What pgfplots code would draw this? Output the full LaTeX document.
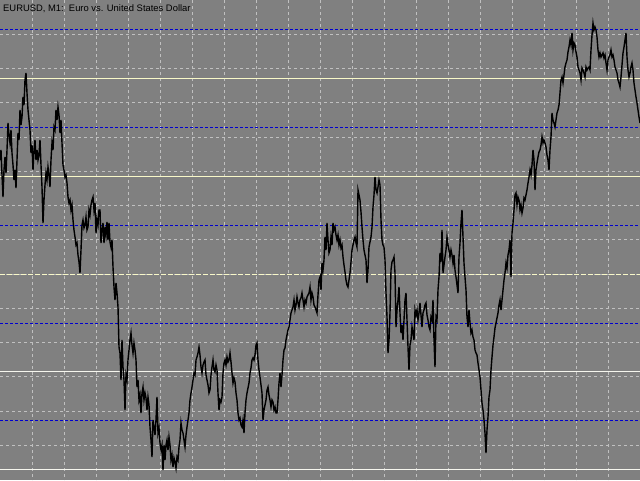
\documentclass[border=0pt]{standalone}
\usepackage{pgfplots}
\pgfplotsset{compat=1.18}
\usepackage{fontspec}
\setmainfont{Liberation Sans}
\definecolor{bggray}{HTML}{808080}
\definecolor{gridgray}{HTML}{C0C0C0}
\definecolor{lvlblue}{HTML}{0000D0}
\definecolor{lvlcream}{HTML}{F8F8C8}
\definecolor{lvlwhite}{HTML}{F6F6EE}
\begin{document}
\begin{tikzpicture}
\begin{axis}[
  width=640pt, height=480pt, scale only axis,
  xmin=0, xmax=640, ymin=0, ymax=480, y dir=reverse,
  axis background/.style={fill=bggray},
  axis line style={draw=none},
  xtick={32,64,...,608},
  ytick={34,68.5,102.8,137,171.3,205.5,239.8,274,308.3,342.6,376.8,411,445.4},
  xticklabels={}, yticklabels={},
  major tick length=0pt,
  grid=major,
  grid style={gridgray, line width=0.8pt, dash pattern=on 3pt off 3pt},
  clip=true,
]
% level lines
\addplot[lvlblue, line width=0.9pt, dash pattern=on 3pt off 2pt] coordinates {(0,29.5) (640,29.5)};
\addplot[lvlblue, line width=0.9pt, dash pattern=on 3pt off 2pt] coordinates {(0,127.5) (640,127.5)};
\addplot[lvlblue, line width=0.9pt, dash pattern=on 3pt off 2pt] coordinates {(0,225.5) (640,225.5)};
\addplot[lvlblue, line width=0.9pt, dash pattern=on 3pt off 2pt] coordinates {(0,323.5) (640,323.5)};
\addplot[lvlblue, line width=0.9pt, dash pattern=on 3pt off 2pt] coordinates {(0,420.5) (640,420.5)};
\addplot[lvlcream, line width=1pt] coordinates {(0,78.5) (640,78.5)};
\addplot[lvlcream, line width=1pt] coordinates {(0,176.5) (640,176.5)};
\addplot[lvlcream, line width=1pt, dash pattern=on 5pt off 2pt] coordinates {(0,274.5) (640,274.5)};
\addplot[lvlwhite, line width=1pt] coordinates {(0,371.5) (640,371.5)};
\addplot[lvlwhite, line width=1pt] coordinates {(0,469.5) (640,469.5)};
% price
\addplot[black, line width=1.4pt, line join=miter] coordinates {
(0,160) (1,150) (2,175) (3,197) (4,170) (5,157) (6,173) (7,150) (8,123) (9,135) (10,143) (11,130) (12,153) (13,165) (14,180) (15,170) (16,188) (17,160) (18,133) (19,140) (20,110) (21,125) (22,117) (23,97) (24,105) (25,80) (26,73) (27,93) (28,110) (29,120) (30,130) (31,153) (32,145) (33,170) (34,150) (35,140) (36,160) (37,150) (38,160) (39,155) (40,140) (41,165) (42,187) (43,223) (44,200) (45,185) (46,173) (47,180) (48,167) (49,175) (50,187) (51,160) (52,143) (53,150) (54,127) (55,130) (56,110) (57,120) (58,107) (59,115) (60,133) (61,120) (62,143) (63,165) (64,170) (65,177) (66,175) (67,183) (68,197) (69,203) (70,200) (71,210) (72,205) (73,220) (74,230) (75,237) (76,245) (77,243) (78,255) (79,262) (80,273) (81,250) (82,225) (83,220) (84,228) (85,225) (86,217) (87,230) (88,227) (89,210) (90,215) (91,205) (92,200) (93,197) (94,210) (95,203) (96,233) (97,220) (98,225) (99,210)
(100,210) (101,243) (102,230) (103,223) (104,243) (105,227) (106,235) (107,222) (108,240) (109,223) (110,242) (111,247) (112,240) (113,267) (114,287) (115,300) (116,283) (117,293) (118,307) (119,347) (120,353) (121,380) (122,340) (123,367) (124,380) (125,410) (126,375) (127,380) (128,360) (129,350) (130,340) (131,333) (132,345) (133,353) (134,343) (135,350) (136,360) (137,387) (138,380) (139,400) (140,395) (141,413) (142,393) (143,387) (144,400) (145,393) (146,398) (147,410) (148,397) (149,405) (150,427) (151,440) (152,457) (153,420) (154,427) (155,435) (156,420) (157,397) (158,433) (159,428) (160,443) (161,450) (162,445) (163,470) (164,445) (165,460) (166,445) (167,440) (168,450) (169,437) (170,445) (171,460) (172,455) (173,467) (174,458) (175,462) (176,468) (177,457) (178,460) (179,447) (180,440) (181,423) (182,430) (183,433) (184,440) (185,447) (186,435) (187,427) (188,420) (189,413) (190,400) (191,393) (192,387) (193,380) (194,373) (195,375) (196,360) (197,357) (198,353) (199,347) (200,355) (201,367) (202,373) (203,365) (204,362) (205,360) (206,375) (207,380) (208,385) (209,393)
(210,390) (211,375) (212,367) (213,360) (214,370) (215,372) (216,365) (217,370) (218,393) (219,410) (220,400) (221,402) (222,397) (223,373) (224,363) (225,360) (226,365) (227,357) (228,362) (229,360) (230,353) (231,362) (232,373) (233,383) (234,378) (235,382) (236,393) (237,400) (238,413) (239,420) (240,418) (241,425) (242,427) (243,420) (244,433) (245,413) (246,400) (247,393) (248,388) (249,383) (250,373) (251,368) (252,360) (253,358) (254,360) (255,355) (256,345) (257,343) (258,360) (259,370) (260,377) (261,385) (262,393) (263,420) (264,410) (265,405) (266,400) (267,390) (268,387) (269,395) (270,400) (271,407) (272,400) (273,402) (274,410) (275,407) (276,413) (277,413) (278,400) (279,383) (280,373) (281,387) (282,375) (283,360) (284,350) (285,348) (286,340) (287,335) (288,330) (289,327) (290,320) (291,313) (292,310) (293,307) (294,300) (295,310) (296,305) (297,297) (298,303) (299,307)
(300,300) (301,298) (302,293) (303,300) (304,307) (305,300) (306,303) (307,297) (308,295) (309,293) (310,287) (311,300) (312,293) (313,297) (314,305) (315,307) (316,310) (317,313) (318,295) (319,280) (320,277) (321,290) (322,263) (323,270) (324,260) (325,237) (326,250) (327,223) (328,240) (329,253) (330,250) (331,237) (332,245) (333,223) (334,230) (335,227) (336,235) (337,240) (338,235) (339,245) (340,240) (341,248) (342,245) (343,257) (344,265) (345,272) (346,280) (347,285) (348,287) (349,280) (350,273) (351,262) (352,250) (353,245) (354,240) (355,237) (356,243) (357,247) (358,190) (359,195) (360,200) (361,212) (362,227) (363,240) (364,250) (365,255) (366,260) (367,283) (368,270) (369,247) (370,242) (371,237) (372,227) (373,207) (374,195) (375,177) (376,190) (377,193) (378,187) (379,180) (380,185) (381,220) (382,240) (383,245) (384,247) (385,260) (386,293) (387,317) (388,353) (389,340) (390,313) (391,270) (392,262) (393,260) (394,257) (395,273) (396,327) (397,310) (398,300) (399,287)
(400,313) (401,333) (402,325) (403,340) (404,320) (405,300) (406,293) (407,320) (408,347) (409,370) (410,345) (411,340) (412,327) (413,333) (414,340) (415,310) (416,315) (417,310) (418,320) (419,313) (420,303) (421,315) (422,327) (423,313) (424,310) (425,305) (426,303) (427,315) (428,320) (429,327) (430,330) (431,317) (432,320) (433,300) (434,340) (435,367) (436,317) (437,320) (438,290) (439,277) (440,253) (441,262) (442,230) (443,273) (444,265) (445,257) (446,250) (447,237) (448,245) (449,250) (450,257) (451,250) (452,255) (453,263) (454,255) (455,270) (456,277) (457,285) (458,293) (459,257) (460,243) (461,223) (462,210) (463,237) (464,263) (465,277) (466,290) (467,317) (468,327) (469,310) (470,323) (471,333) (472,330) (473,337) (474,340) (475,350) (476,353) (477,355) (478,363) (479,370) (480,377) (481,390) (482,403) (483,410) (484,420) (485,433) (486,453) (487,430) (488,417) (489,397) (490,390) (491,370) (492,357) (493,345) (494,337) (495,328) (496,323) (497,318) (498,313) (499,305)
(500,300) (501,310) (502,300) (503,290) (504,280) (505,273) (506,263) (507,268) (508,255) (509,250) (510,240) (511,277) (512,233) (513,223) (514,210) (515,195) (516,193) (517,205) (518,197) (519,200) (520,210) (521,205) (522,213) (523,208) (524,198) (525,200) (526,195) (527,190) (528,183) (529,177) (530,170) (531,175) (532,165) (533,150) (534,160) (535,190) (536,170) (537,163) (538,157) (539,152) (540,150) (541,145) (542,137) (543,143) (544,140) (545,143) (546,147) (547,155) (548,160) (549,170) (550,150) (551,137) (552,113) (553,120) (554,123) (555,127) (556,120) (557,113) (558,110) (559,105) (560,93) (561,80) (562,77) (563,83) (564,75) (565,67) (566,63) (567,60) (568,52) (569,47) (570,40) (571,45) (572,33) (573,50) (574,43) (575,45) (576,52) (577,57) (578,67) (579,70) (580,73) (581,80) (582,68) (583,70) (584,73) (585,77) (586,67) (587,70) (588,68) (589,67) (590,70) (591,50) (592,35) (593,23) (594,30) (595,27) (596,30) (597,37) (598,50) (599,57)
(600,53) (601,57) (602,55) (603,53) (604,58) (605,55) (606,63) (607,70) (608,60) (609,57) (610,55) (611,50) (612,57) (613,55) (614,60) (615,67) (616,70) (617,73) (618,80) (619,83) (620,87) (621,77) (622,65) (623,53) (624,47) (625,40) (626,33) (627,57) (628,70) (629,77) (630,73) (631,67) (632,63) (633,70) (634,83) (635,90) (636,97) (637,103) (638,110) (639,117) (640,123)
};
\node[anchor=base west, inner sep=0pt, font=\fontsize{9.4}{11}\selectfont] at (axis cs:3,11.5) {EURUSD, M1:\ \ Euro vs. United States Dollar};
\end{axis}
\pgfresetboundingbox
\path[use as bounding box] (current axis.south west) rectangle (current axis.north east);
\end{tikzpicture}
\end{document}
